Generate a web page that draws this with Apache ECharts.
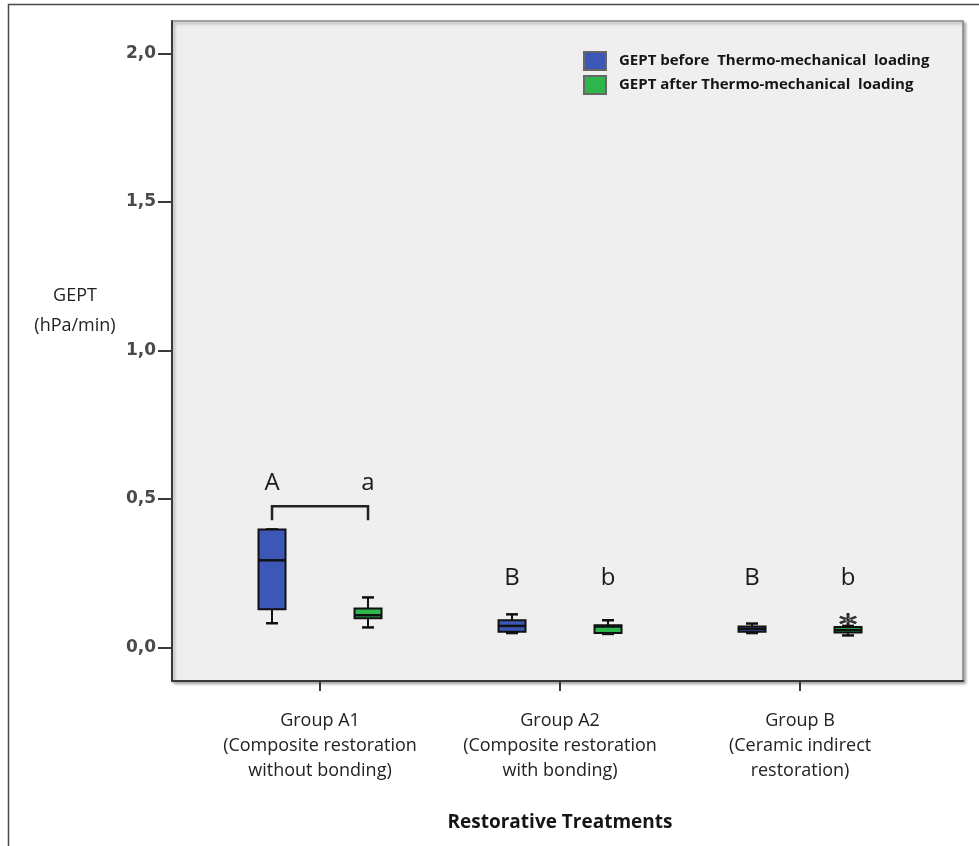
<!DOCTYPE html>
<html>
<head>
<meta charset="utf-8">
<script src="https://cdn.jsdelivr.net/npm/echarts@6/dist/echarts.min.js"></script>
<style>
  html, body { margin: 0; padding: 0; background: #fff; }
  #chart { width: 979px; height: 846px; }
</style>
</head>
<body>
<div id="chart"></div>
<script>
// Treatment groups (x axis)
const categories = [
  'Group A1\n(Composite restoration\nwithout bonding)',
  'Group A2\n(Composite restoration\nwith bonding)',
  'Group B\n(Ceramic indirect\nrestoration)'
];
const seriesNames = [
  'GEPT before  Thermo-mechanical  loading',
  'GEPT after Thermo-mechanical  loading'
];
// Five-number summaries per group: [lower whisker, Q1, median, Q3, upper whisker] (hPa/min)
const gpetBefore = [
  [0.081, 0.128, 0.293, 0.397, 0.397],
  [0.048, 0.052, 0.072, 0.091, 0.111],
  [0.048, 0.052, 0.062, 0.070, 0.080]
];
const gpetAfter = [
  [0.067, 0.098, 0.108, 0.131, 0.168],
  [0.045, 0.048, 0.070, 0.074, 0.091],
  [0.040, 0.050, 0.058, 0.068, 0.072]
];
// Extreme values (group number, value)
const extremesAfter = [[3, 0.092]];
// Significance letters and the height they are written at
const lettersBefore = ['A', 'B', 'B'];
const lettersAfter = ['a', 'b', 'b'];
const letterLevel = [0.552, 0.232, 0.232];
// Bracket linking the two A1 boxes: [group, top, bottom of the ends]
const brackets = [[1, 0.475, 0.428]];
const yTicks = [0, 0.5, 1.0, 1.5, 2.0];
const groupTicks = [1, 2, 3];

const BLUE = '#3d57b7';
const GREEN = '#2eb54c';
const OFFSET = 0.2;      // half distance between paired boxes (x units)
const BOX_W = 0.1125;    // box width (x units)
const CAP_W = 0.05;      // whisker cap width (x units)
const FONT = '"Open Sans", "Noto Sans", sans-serif';

function boxRenderer(offset) {
  return function (params, api) {
    const g = api.value(0) + offset;
    const p = k => api.coord([g, api.value(k)]);
    const lo = p(1), q1 = p(2), md = p(3), q3 = p(4), hi = p(5);
    const half = api.size([BOX_W, 0])[0] / 2;
    const cap = api.size([CAP_W, 0])[0] / 2;
    const x = lo[0];
    const thin = { stroke: '#111', lineWidth: 2 };
    const thick = { stroke: '#111', lineWidth: 2.5 };
    return {
      type: 'group',
      children: [
        { type: 'line', shape: { x1: x, y1: lo[1], x2: x, y2: q1[1] }, style: thin },
        { type: 'line', shape: { x1: x, y1: q3[1], x2: x, y2: hi[1] }, style: thin },
        { type: 'line', shape: { x1: x - cap, y1: lo[1], x2: x + cap, y2: lo[1] }, style: thick },
        { type: 'line', shape: { x1: x - cap, y1: hi[1], x2: x + cap, y2: hi[1] }, style: thick },
        { type: 'rect', shape: { x: x - half, y: q3[1], width: half * 2, height: q1[1] - q3[1] },
          style: { fill: api.visual('color'), stroke: '#111', lineWidth: 2 } },
        { type: 'line', shape: { x1: x - half, y1: md[1], x2: x + half, y2: md[1] }, style: thick }
      ]
    };
  };
}

function letterRenderer(offset, texts) {
  return function (params, api) {
    const pt = api.coord([api.value(0) + offset, api.value(1)]);
    return {
      type: 'text',
      x: pt[0], y: pt[1],
      style: {
        text: texts[params.dataIndex],
        fontSize: 24, fontFamily: FONT, fill: '#1a1a1a',
        align: 'center', verticalAlign: 'middle'
      }
    };
  };
}

function bracketRenderer(params, api) {
  const g = api.value(0);
  const lt = api.coord([g - OFFSET, api.value(1)]);
  const lb = api.coord([g - OFFSET, api.value(2)]);
  const rt = api.coord([g + OFFSET, api.value(1)]);
  const rb = api.coord([g + OFFSET, api.value(2)]);
  return {
    type: 'polyline',
    shape: { points: [lb, lt, rt, rb] },
    style: { stroke: '#222', lineWidth: 2.5, fill: null }
  };
}

const chart = echarts.init(document.getElementById('chart'), null, { renderer: 'canvas' });

chart.setOption({
  backgroundColor: '#ffffff',
  animation: false,
  graphic: [
    { type: 'rect', z: -10, shape: { x: 8.5, y: 4.5, width: 1000, height: 900 },
      style: { fill: null, stroke: '#4a4a4a', lineWidth: 1.5 } },
    { type: 'text', x: 75, y: 311,
      style: { text: 'GEPT\n(hPa/min)', fontSize: 18, lineHeight: 30, fontFamily: FONT,
        fill: '#222', align: 'center', verticalAlign: 'middle' } }
  ],
  grid: {
    left: 172, right: 16, top: 21, bottom: 165,
    show: true, backgroundColor: '#efefef',
    borderColor: '#8a8a8a', borderWidth: 1.5,
    shadowColor: 'rgba(0,0,0,0.35)', shadowBlur: 3, shadowOffsetX: 2, shadowOffsetY: 2
  },
  legend: {
    orient: 'vertical', left: 578, top: 46,
    itemWidth: 22, itemHeight: 18, itemGap: 4,
    icon: 'rect',
    data: seriesNames,
    textStyle: { fontSize: 15, fontWeight: 'bold', fontFamily: FONT, color: '#151515', padding: [0, 0, 0, 8] }
  },
  xAxis: {
    type: 'value', min: 0.3833, max: 3.679,
    name: 'Restorative Treatments', nameLocation: 'middle', nameGap: 132,
    nameTextStyle: { fontSize: 19, fontWeight: 'bold', fontFamily: FONT, color: '#151515', padding: [0, 15, 0, 0] },
    axisLine: { show: true, onZero: false, lineStyle: { color: '#3a3a3a', width: 2 } },
    axisTick: { show: true, customValues: groupTicks, length: 10, lineStyle: { color: '#3a3a3a', width: 2 } },
    axisLabel: {
      customValues: groupTicks, margin: 27, fontSize: 18, lineHeight: 25, fontFamily: FONT, color: '#222',
      formatter: v => categories[Math.round(v) - 1]
    },
    splitLine: { show: false }
  },
  yAxis: {
    type: 'value', min: -0.1135, max: 2.109,
    axisLine: { show: true, lineStyle: { color: '#3a3a3a', width: 2 } },
    axisTick: { show: true, customValues: yTicks, length: 14, lineStyle: { color: '#3a3a3a', width: 2 } },
    axisLabel: {
      customValues: yTicks, margin: 16, fontSize: 17, fontWeight: 'bold',
      fontFamily: '"DejaVu Sans", sans-serif', color: '#4a4a4a',
      formatter: v => v.toFixed(1).replace('.', ',')
    },
    splitLine: { show: false }
  },
  series: [
    {
      name: seriesNames[0], type: 'custom',
      itemStyle: { color: BLUE, borderColor: '#666', borderWidth: 1 },
      encode: { x: 0, y: [1, 2, 3, 4, 5] },
      renderItem: boxRenderer(-OFFSET),
      data: gpetBefore.map((d, i) => [i + 1].concat(d))
    },
    {
      name: seriesNames[1], type: 'custom',
      itemStyle: { color: GREEN, borderColor: '#666', borderWidth: 1 },
      encode: { x: 0, y: [1, 2, 3, 4, 5] },
      renderItem: boxRenderer(OFFSET),
      data: gpetAfter.map((d, i) => [i + 1].concat(d))
    },
    {
      name: 'extremes', type: 'scatter', z: 5,
      symbol: 'path://M8.3,0L11.7,0L11.7,20L8.3,20Z M0,7L1.7,4L20,13L18.3,16Z M0,13L1.7,16L20,7L18.3,4Z',
      symbolSize: [18, 14],
      itemStyle: { color: '#000' },
      data: extremesAfter.map(d => [d[0] + OFFSET, d[1]])
    },
    {
      name: 'letters-before', type: 'custom',
      encode: { x: 0, y: 1 },
      renderItem: letterRenderer(-OFFSET, lettersBefore),
      data: letterLevel.map((h, i) => [i + 1, h])
    },
    {
      name: 'letters-after', type: 'custom',
      encode: { x: 0, y: 1 },
      renderItem: letterRenderer(OFFSET, lettersAfter),
      data: letterLevel.map((h, i) => [i + 1, h])
    },
    {
      name: 'bracket', type: 'custom',
      encode: { x: 0, y: [1, 2] },
      renderItem: bracketRenderer,
      data: brackets
    }
  ]
});
</script>
</body>
</html>
